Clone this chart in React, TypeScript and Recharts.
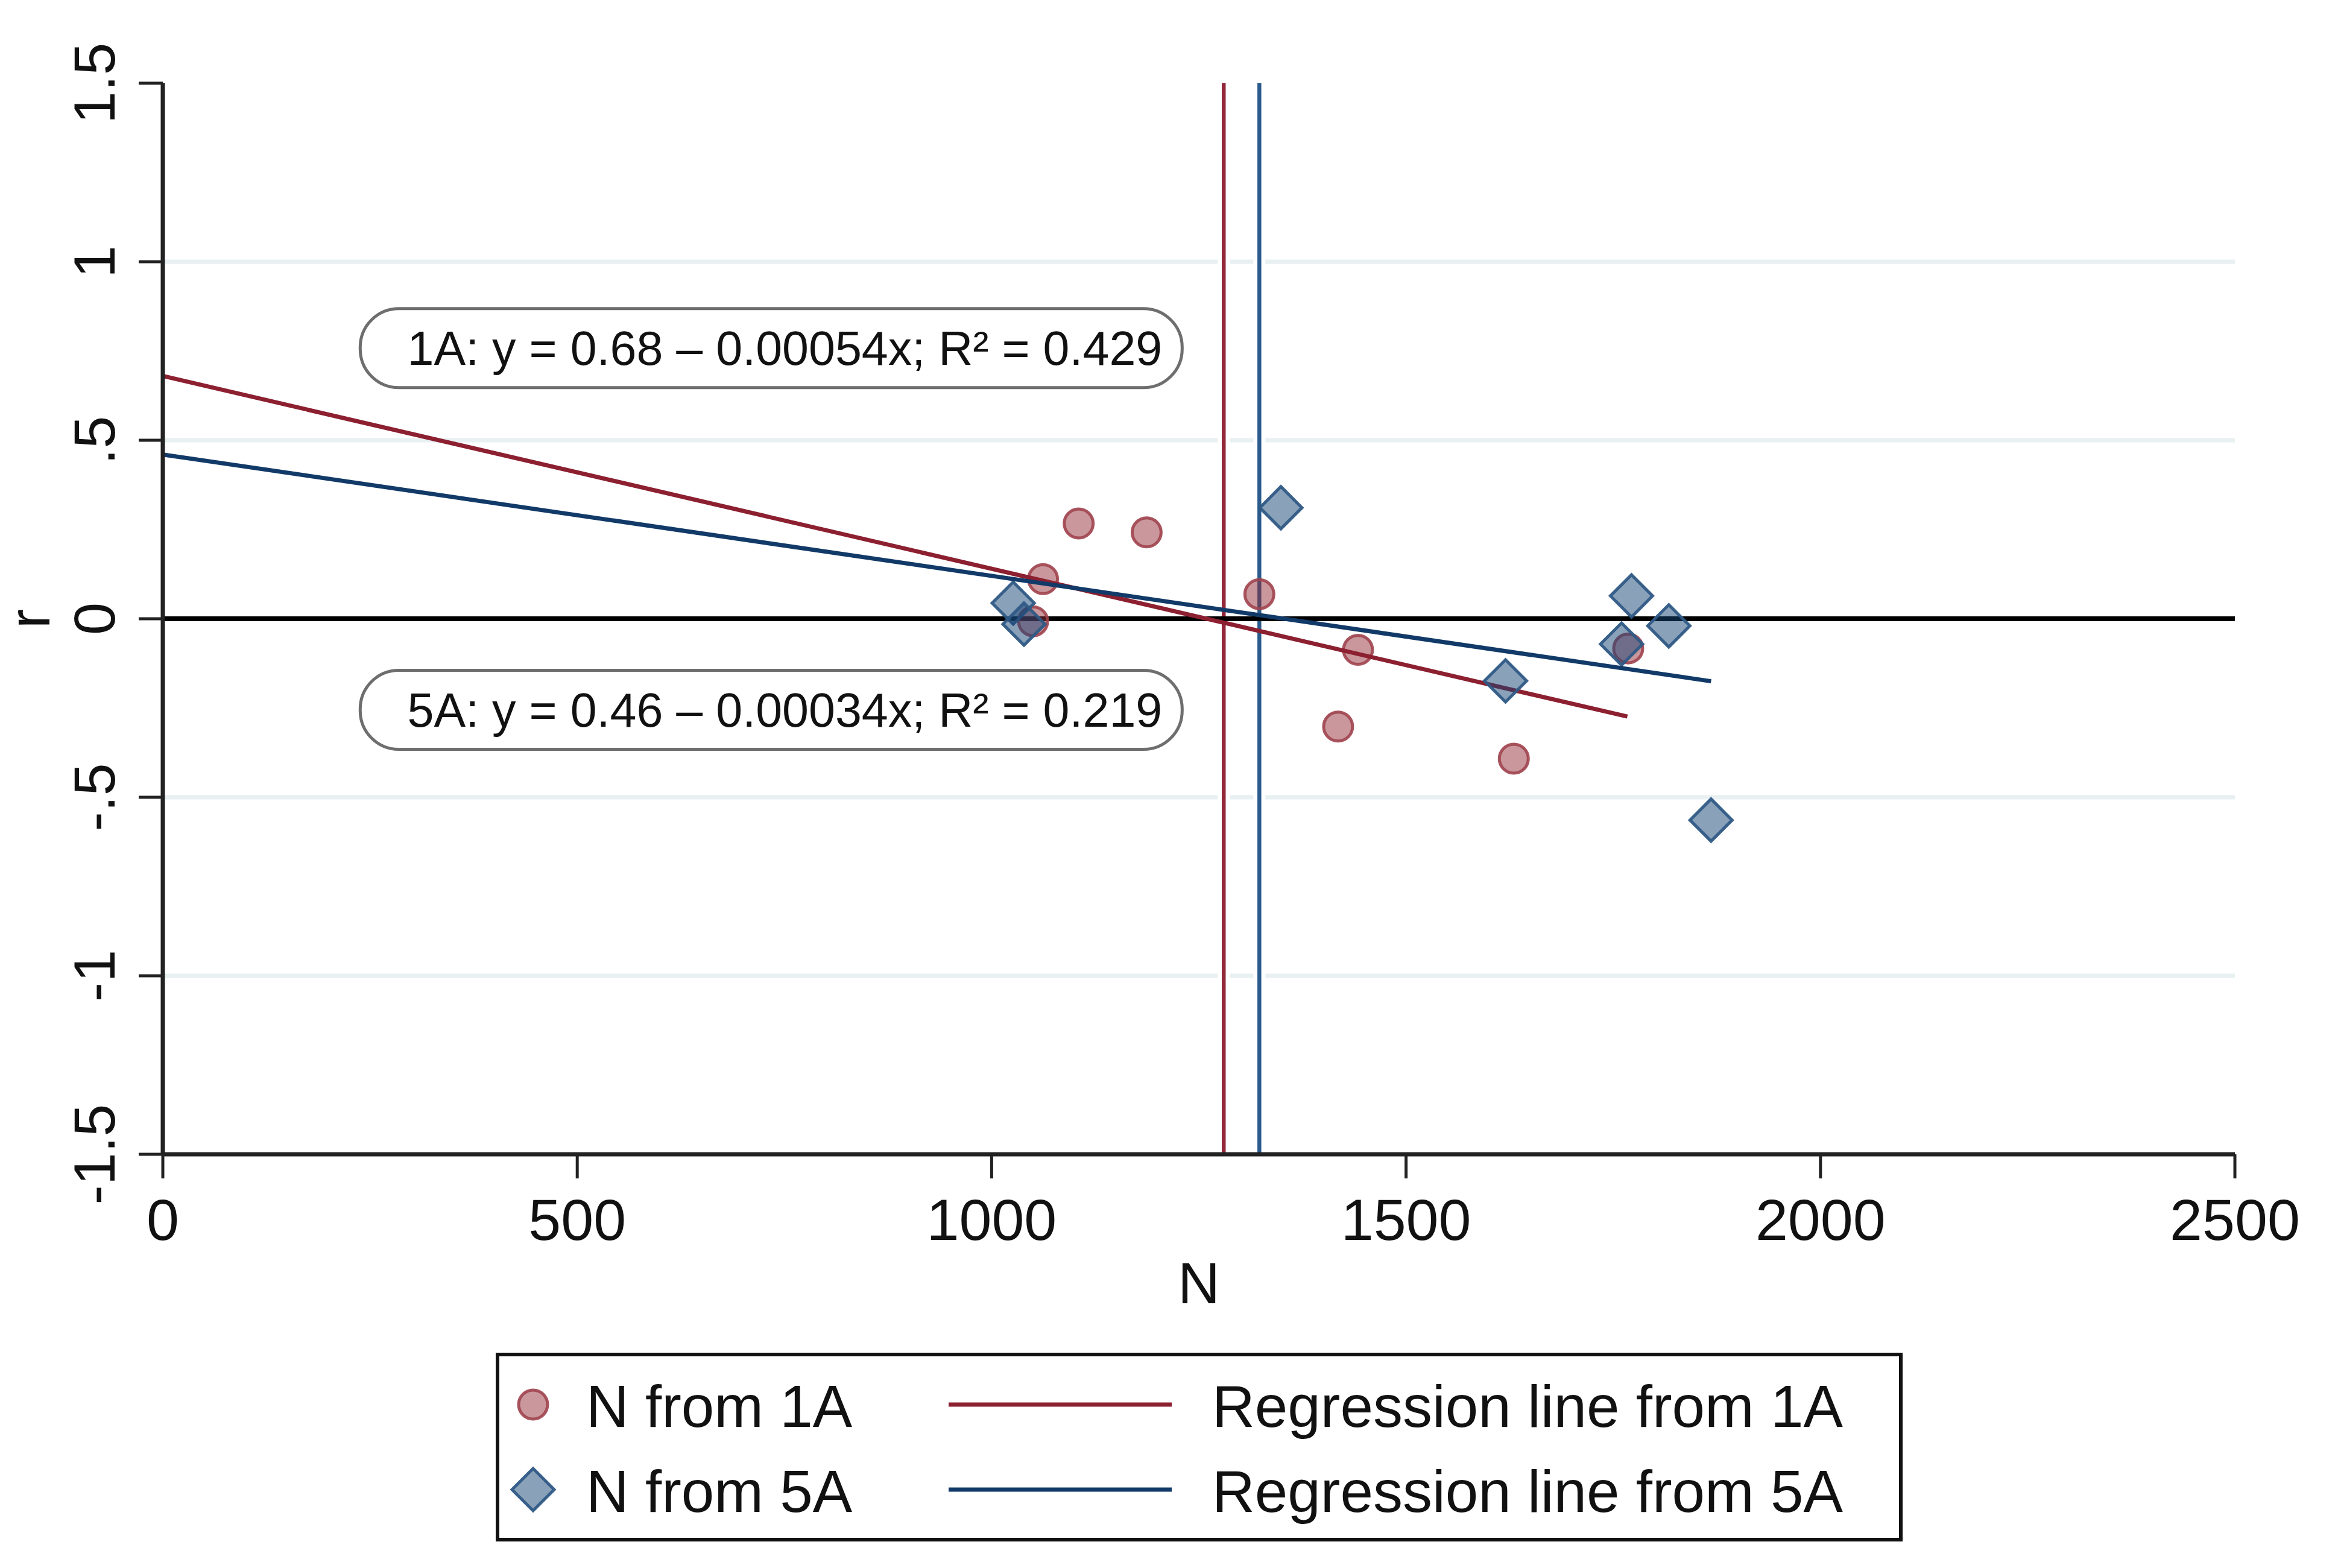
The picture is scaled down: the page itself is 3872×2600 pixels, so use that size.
import {
  ComposedChart,
  Legend,
  Line,
  ReferenceDot,
  ReferenceLine,
  Scatter,
  XAxis,
  YAxis,
} from "recharts";

// axis ticks
const xTicks = [0, 500, 1000, 1500, 2000, 2500];
const yTicks = [-1.5, -1, -0.5, 0, 0.5, 1, 1.5];
const gridValues = [-1, -0.5, 0.5, 1];

// N / r
const n1A = [1105, 1187, 1062, 1050, 1323, 1442, 1418, 1630, 1768];
const r1A = [0.267, 0.242, 0.111, -0.007, 0.069, -0.087, -0.302, -0.392, -0.083];
const n5A = [1026, 1039, 1349, 1620, 1772, 1760, 1817, 1868];
const r5A = [0.044, -0.015, 0.311, -0.174, 0.064, -0.071, -0.02, -0.564];

// fitted line end points
const fitN1A = [0, 1767];
const fitR1A = [0.68, -0.274];
const fitN5A = [0, 1868];
const fitR5A = [0.46, -0.175];

// vertical markers
const vlineN1A = 1280;
const vlineN5A = 1323;

// equation boxes
const eqLabels = [
  "1A: y = 0.68 \u2013 0.00054x; R\u00b2 = 0.429",
  "5A: y = 0.46 \u2013 0.00034x; R\u00b2 = 0.219",
];
const eqAnchorN = [734, 734];
const eqAnchorR = [0.758, -0.255];

const legendNames = [
  "N from 1A",
  "Regression line from 1A",
  "N from 5A",
  "Regression line from 5A",
];

const FONT = "'Liberation Sans', Arial, Helvetica, sans-serif";
const RED = "#93303a";
const RED_LINE = "#8c2030";
const BLUE = "#154375";
const BLUE_LINE = "#123a68";
const BLUE_VLINE = "#2b5b8c";

const zip = (ns: number[], rs: number[]) => ns.map((n, i) => ({ n, r: rs[i] }));
const pts1A = zip(n1A, r1A);
const pts5A = zip(n5A, r5A);
const fit1A = zip(fitN1A, fitR1A);
const fit5A = zip(fitN5A, fitR5A);

const fmtY = (v: number) => {
  if (v === 0) return "0";
  return String(v).replace(/^(-?)0\./, "$1.");
};

function XTick(props: any) {
  const { x, y, payload } = props;
  return (
    <text x={x} y={y} dy="0.71em" textAnchor="middle" fontSize={97} fontFamily={FONT} fill="#111">
      {payload.value}
    </text>
  );
}

function YTick(props: any) {
  const { x, y, payload } = props;
  return (
    <text
      transform={`translate(${x},${y}) rotate(-90)`}
      textAnchor="middle"
      fontSize={97}
      fontFamily={FONT}
      fill="#111"
    >
      {fmtY(payload.value)}
    </text>
  );
}

const rLabel = (p: any) => {
  const vb = p.viewBox;
  return (
    <text
      transform={`translate(${vb.x + 82},${vb.y + vb.height / 2}) rotate(-90)`}
      textAnchor="middle"
      fontSize={97}
      fontFamily={FONT}
      fill="#111"
    >
      r
    </text>
  );
};

function Dot1A(props: any) {
  const { cx, cy } = props;
  return (
    <circle cx={cx} cy={cy} r={24} fill={RED} fillOpacity={0.5} stroke="#a0434e" strokeOpacity={0.9} strokeWidth={5} />
  );
}

function Diamond5A(props: any) {
  const { cx, cy } = props;
  const d = 35;
  return (
    <polygon
      points={`${cx},${cy - d} ${cx + d},${cy} ${cx},${cy + d} ${cx - d},${cy}`}
      fill={BLUE}
      fillOpacity={0.5}
      stroke="#2f5a85"
      strokeOpacity={0.95}
      strokeWidth={5}
      strokeLinejoin="miter"
    />
  );
}

function EqBox(props: any) {
  const { cx, cy, text } = props;
  const w = 1363;
  const h = 131;
  return (
    <g>
      <rect x={cx - w / 2} y={cy - h / 2} width={w} height={h} rx={64} ry={64} fill="#fff" stroke="#6e6e6e" strokeWidth={5} />
      <text x={cx + w / 2 - 33} y={cy + 28} textAnchor="end" fontSize={79} fontFamily={FONT} fill="#111">
        {text}
      </text>
    </g>
  );
}

function LegendBox() {
  const rows = [86, 227];
  return (
    <svg width={2333} height={313} style={{ display: "block" }}>
      <rect x={3} y={3} width={2327} height={307} fill="#fff" stroke="#111" strokeWidth={6} />
      <Dot1A cx={62} cy={rows[0]} />
      <Diamond5A cx={62} cy={rows[1]} />
      <line x1={751} x2={1121} y1={rows[0]} y2={rows[0]} stroke={RED_LINE} strokeWidth={7} />
      <line x1={751} x2={1121} y1={rows[1]} y2={rows[1]} stroke={BLUE_LINE} strokeWidth={7} />
      {legendNames.map((name, i) => (
        <text
          key={name}
          x={i % 2 === 0 ? 150 : 1188}
          y={rows[Math.floor(i / 2)] + 37}
          fontSize={98}
          fontFamily={FONT}
          fill="#111"
        >
          {name}
        </text>
      ))}
    </svg>
  );
}

export default function App() {
  return (
    <div style={{ position: "absolute", left: 0, top: 0, width: 3872, height: 2600, background: "#fff" }}>
      <ComposedChart width={3872} height={2600} margin={{ top: 138, right: 166, bottom: 439, left: 0 }}>
        <XAxis
          type="number"
          dataKey="n"
          domain={[0, 2500]}
          ticks={xTicks}
          interval={0}
          height={247}
          tickSize={40}
          tickMargin={33}
          axisLine={{ stroke: "#222", strokeWidth: 7 }}
          tickLine={{ stroke: "#222", strokeWidth: 5 }}
          tick={<XTick />}
          label={{ value: "N", position: "insideBottom", offset: 0, fontSize: 97, fontFamily: FONT, fill: "#111" }}
        />
        <YAxis
          type="number"
          dataKey="r"
          domain={[-1.5, 1.5]}
          ticks={yTicks}
          interval={0}
          width={270}
          tickSize={40}
          tickMargin={40}
          axisLine={{ stroke: "#222", strokeWidth: 7 }}
          tickLine={{ stroke: "#222", strokeWidth: 5 }}
          tick={<YTick />}
          label={rLabel}
        />
        {gridValues.map((v) => (
          <ReferenceLine key={v} y={v} stroke="#e8f0f2" strokeWidth={7} zIndex={-50} />
        ))}
        <ReferenceLine x={vlineN1A} stroke="#fff" strokeWidth={20} zIndex={40} />
        <ReferenceLine x={vlineN5A} stroke="#fff" strokeWidth={20} zIndex={40} />
        <ReferenceLine x={vlineN1A} stroke="#93283a" strokeWidth={6.5} zIndex={50} />
        <ReferenceLine x={vlineN5A} stroke={BLUE_VLINE} strokeWidth={6.5} zIndex={50} />
        <ReferenceLine y={0} stroke="#000" strokeWidth={8} zIndex={60} />
        <Scatter name={legendNames[0]} data={pts1A} shape={<Dot1A />} isAnimationActive={false} zIndex={410} />
        <Line
          name={legendNames[1]}
          data={fit1A}
          dataKey="r"
          type="linear"
          stroke={RED_LINE}
          strokeWidth={7}
          dot={false}
          activeDot={false}
          isAnimationActive={false}
          zIndex={420}
        />
        <Scatter name={legendNames[2]} data={pts5A} shape={<Diamond5A />} isAnimationActive={false} zIndex={430} />
        <Line
          name={legendNames[3]}
          data={fit5A}
          dataKey="r"
          type="linear"
          stroke={BLUE_LINE}
          strokeWidth={7}
          dot={false}
          activeDot={false}
          isAnimationActive={false}
          zIndex={440}
        />
        {eqLabels.map((text, i) => (
          <ReferenceDot
            key={text}
            x={eqAnchorN[i]}
            y={eqAnchorR[i]}
            r={1}
            ifOverflow="visible"
            zIndex={700}
            shape={(p: any) => <EqBox cx={p.cx} cy={p.cy} text={text} />}
          />
        ))}
        <Legend
          layout="horizontal"
          verticalAlign="middle"
          align="center"
          width={2333}
          wrapperStyle={{ left: 822, top: 2243, width: 2333, height: 313 }}
          content={() => <LegendBox />}
        />
      </ComposedChart>
    </div>
  );
}
